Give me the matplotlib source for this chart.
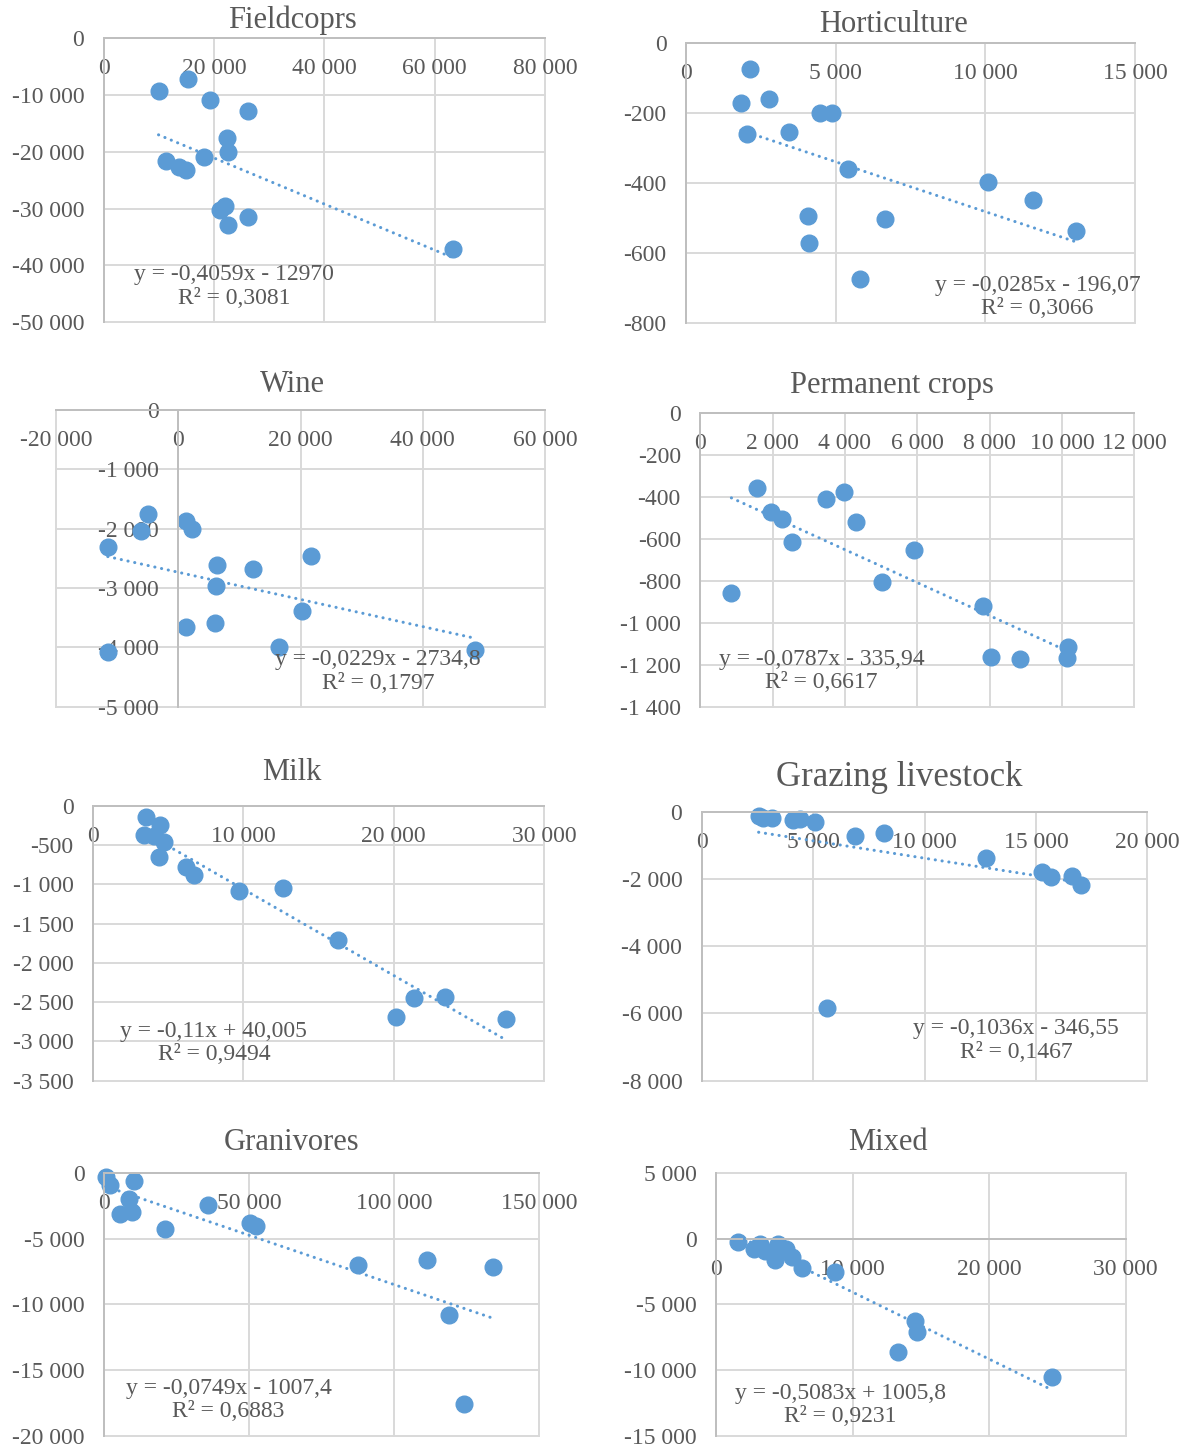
import numpy as np
import matplotlib
matplotlib.use("Agg")
import matplotlib.pyplot as plt
from matplotlib.ticker import FuncFormatter

plt.rcParams['font.family'] = ['Liberation Serif', 'DejaVu Serif']

# --- data ---
titles = ["Fieldcoprs", "Horticulture", "Wine", "Permanent crops",
          "Milk", "Grazing livestock", "Granivores", "Mixed"]

field_x = [9955, 15385, 19367, 26244, 22443, 22624, 18281, 11222, 13575, 15023, 21176, 22081, 22624, 26244, 63348]
field_y = [-9331, -7218, -10915, -12852, -17606, -20070, -20950, -21655, -22711, -23239, -30282, -29577, -32923, -31514, -37148]

hort_x = [2127, 1835, 2772, 2025, 3443, 4481, 4886, 5418, 10101, 11582, 13038, 4063, 4101, 6658, 5797]
hort_y = [-74, -171, -159, -259, -252, -199, -199, -359, -397, -448, -535, -493, -571, -502, -672]

wine_x = [-5031, -6087, -11553, -11553, 1242, 2298, 6335, 12236, 6087, 1242, 5963, 21677, 20248, 16460, 48509]
wine_y = [-1753, -2034, -2309, -4084, -1865, -2006, -2618, -2674, -2966, -3663, -3596, -2461, -3388, -4000, -4051]

perm_x = [1560, 859, 1948, 2262, 2534, 3476, 3969, 4293, 5016, 5895, 7801, 8042, 8848, 10178, 10147]
perm_y = [-358, -857, -469, -503, -614, -410, -377, -519, -807, -652, -918, -1165, -1173, -1114, -1169]

milk_x = [3556, 3380, 4439, 4716, 4388, 4035, 6179, 6709, 9685, 12636, 16318, 20126, 21337, 23430, 27440]
milk_y = [-136, -374, -246, -455, -646, -382, -782, -879, -1083, -1049, -1708, -2685, -2443, -2439, -2719]

graz_x = [2551, 2738, 3146, 4082, 4422, 5068, 6888, 8197, 12755, 15272, 15663, 16633, 17041, 5629]
graz_y = [-119, -178, -198, -248, -218, -307, -734, -624, -1388, -1784, -1943, -1923, -2171, -5829]

gran_x = [524, 1834, 10087, 8646, 5240, 9432, 35894, 21091, 50437, 52403, 87513, 111356, 134282, 118953, 124062]
gran_y = [-303, -934, -606, -1995, -3131, -2955, -2449, -4293, -3838, -4040, -7045, -6616, -7146, -10833, -17551]

mixed_x = [1610, 2775, 3219, 3608, 4552, 5107, 4330, 5551, 6273, 8715, 14543, 14738, 13322, 24618]
mixed_y = [-278, -759, -430, -937, -380, -810, -1646, -1392, -2253, -2506, -6278, -7089, -8633, -10506]

# trendline coefficients and labels as printed on the charts
slopes = [-0.4059, -0.0285, -0.0229, -0.0787, -0.11, -0.1036, -0.0749, -0.5083]
intercepts = [-12970, -196.07, -2734.8, -335.94, 40.005, -346.55, -1007.4, 1005.8]
eq_labels = ["y = -0,4059x - 12970\nR² = 0,3081",
             "y = -0,0285x - 196,07\nR² = 0,3066",
             "y = -0,0229x - 2734,8\nR² = 0,1797",
             "y = -0,0787x - 335,94\nR² = 0,6617",
             "y = -0,11x + 40,005\nR² = 0,9494",
             "y = -0,1036x - 346,55\nR² = 0,1467",
             "y = -0,0749x - 1007,4\nR² = 0,6883",
             "y = -0,5083x + 1005,8\nR² = 0,9231"]

xs = [field_x, hort_x, wine_x, perm_x, milk_x, graz_x, gran_x, mixed_x]
ys = [field_y, hort_y, wine_y, perm_y, milk_y, graz_y, gran_y, mixed_y]

# axis ranges: (xmin, xmax, xstep, ymin, ymax, ystep)
ranges = [(0, 80000, 20000, -50000, 0, 10000),
          (0, 15000, 5000, -800, 0, 200),
          (-20000, 60000, 20000, -5000, 0, 1000),
          (0, 12000, 2000, -1400, 0, 200),
          (0, 30000, 10000, -3500, 0, 500),
          (0, 20000, 5000, -8000, 0, 2000),
          (0, 150000, 50000, -20000, 0, 5000),
          (0, 30000, 10000, -15000, 5000, 5000)]

# --- layout (pixels) ---
W, H = 1189, 1445
boxes = [(103.6, 545, 38.3, 322), (686, 1135, 43.3, 323.3),
         (56.2, 545, 410, 706.7), (700.3, 1134.4, 413.3, 706.7),
         (93, 544.2, 806, 1080.7), (701.8, 1147.3, 811.7, 1080.7),
         (104.4, 538.9, 1172.7, 1436), (716.2, 1125.7, 1172.7, 1436)]
title_pos = [(292, 20), (893, 25), (292, 385), (892, 386),
             (292, 773), (899, 777), (292, 1143), (888, 1143)]
title_size = [22, 22, 22, 22, 22, 25, 22, 22]
eq_pos = [(0.295, 0.125), (0.783, 0.095), (0.658, 0.119), (0.279, 0.121),
          (0.268, 0.137), (0.705, 0.150), (0.286, 0.137), (0.303, 0.118)]

blue = '#5B9BD5'
grey_txt = '#595959'
grid_c = '#D9D9D9'


def thousands(v, pos):
    if v == 0:
        return "0"
    return f"{v:,.0f}".replace(",", " ")


fmt = FuncFormatter(thousands)

fig = plt.figure(figsize=(W / 100, H / 100), dpi=100)

for i in range(8):
    l, r, t, b = boxes[i]
    ax = fig.add_axes([l / W, 1 - b / H, (r - l) / W, (b - t) / H])
    x0, x1, xs_, y0, y1, ys_ = ranges[i]
    ax.set_xlim(x0, x1)
    ax.set_ylim(y0, y1)
    ax.set_xticks(np.arange(x0, x1 + 1, xs_))
    ax.set_yticks(np.arange(y0, y1 + 1, ys_))
    ax.xaxis.set_major_formatter(fmt)
    ax.yaxis.set_major_formatter(fmt)
    ax.set_axisbelow(True)
    ax.grid(True, color=grid_c, lw=1.4)
    ax.spines['top'].set_visible(False)
    ax.spines['right'].set_visible(False)
    ax.spines['left'].set_position(('data', 0))
    ax.spines['bottom'].set_position(('data', 0))
    ax.spines['left'].set_color('#BFBFBF')
    ax.spines['bottom'].set_color('#BFBFBF')
    ax.spines['left'].set_linewidth(1.4)
    ax.spines['bottom'].set_linewidth(1.4)
    ax.tick_params(axis='y', length=0, pad=14, labelsize=17, labelcolor=grey_txt)
    ax.tick_params(axis='x', length=0, pad=14.5, labelsize=17, labelcolor=grey_txt)
    for tk in ax.xaxis.get_major_ticks() + ax.yaxis.get_major_ticks():
        tk.gridline.set_clip_on(False)

    ax.plot(xs[i], ys[i], 'o', color=blue, ms=12, mec=blue, zorder=2, clip_on=False)
    tx = np.array([min(xs[i]), max(xs[i])])
    ax.plot(tx, slopes[i] * tx + intercepts[i], color=blue, lw=2.2,
            linestyle=(0, (0.05, 2.2)), dash_capstyle='round', zorder=3)

    ax.text(eq_pos[i][0], eq_pos[i][1], eq_labels[i], transform=ax.transAxes,
            ha='center', va='center', multialignment='center',
            fontsize=17, color=grey_txt, linespacing=1.15, zorder=4)

    fig.text(title_pos[i][0] / W, 1 - title_pos[i][1] / H, titles[i],
             ha='center', va='center', fontsize=title_size[i], color=grey_txt)

fig.savefig("out.png", dpi=100)
